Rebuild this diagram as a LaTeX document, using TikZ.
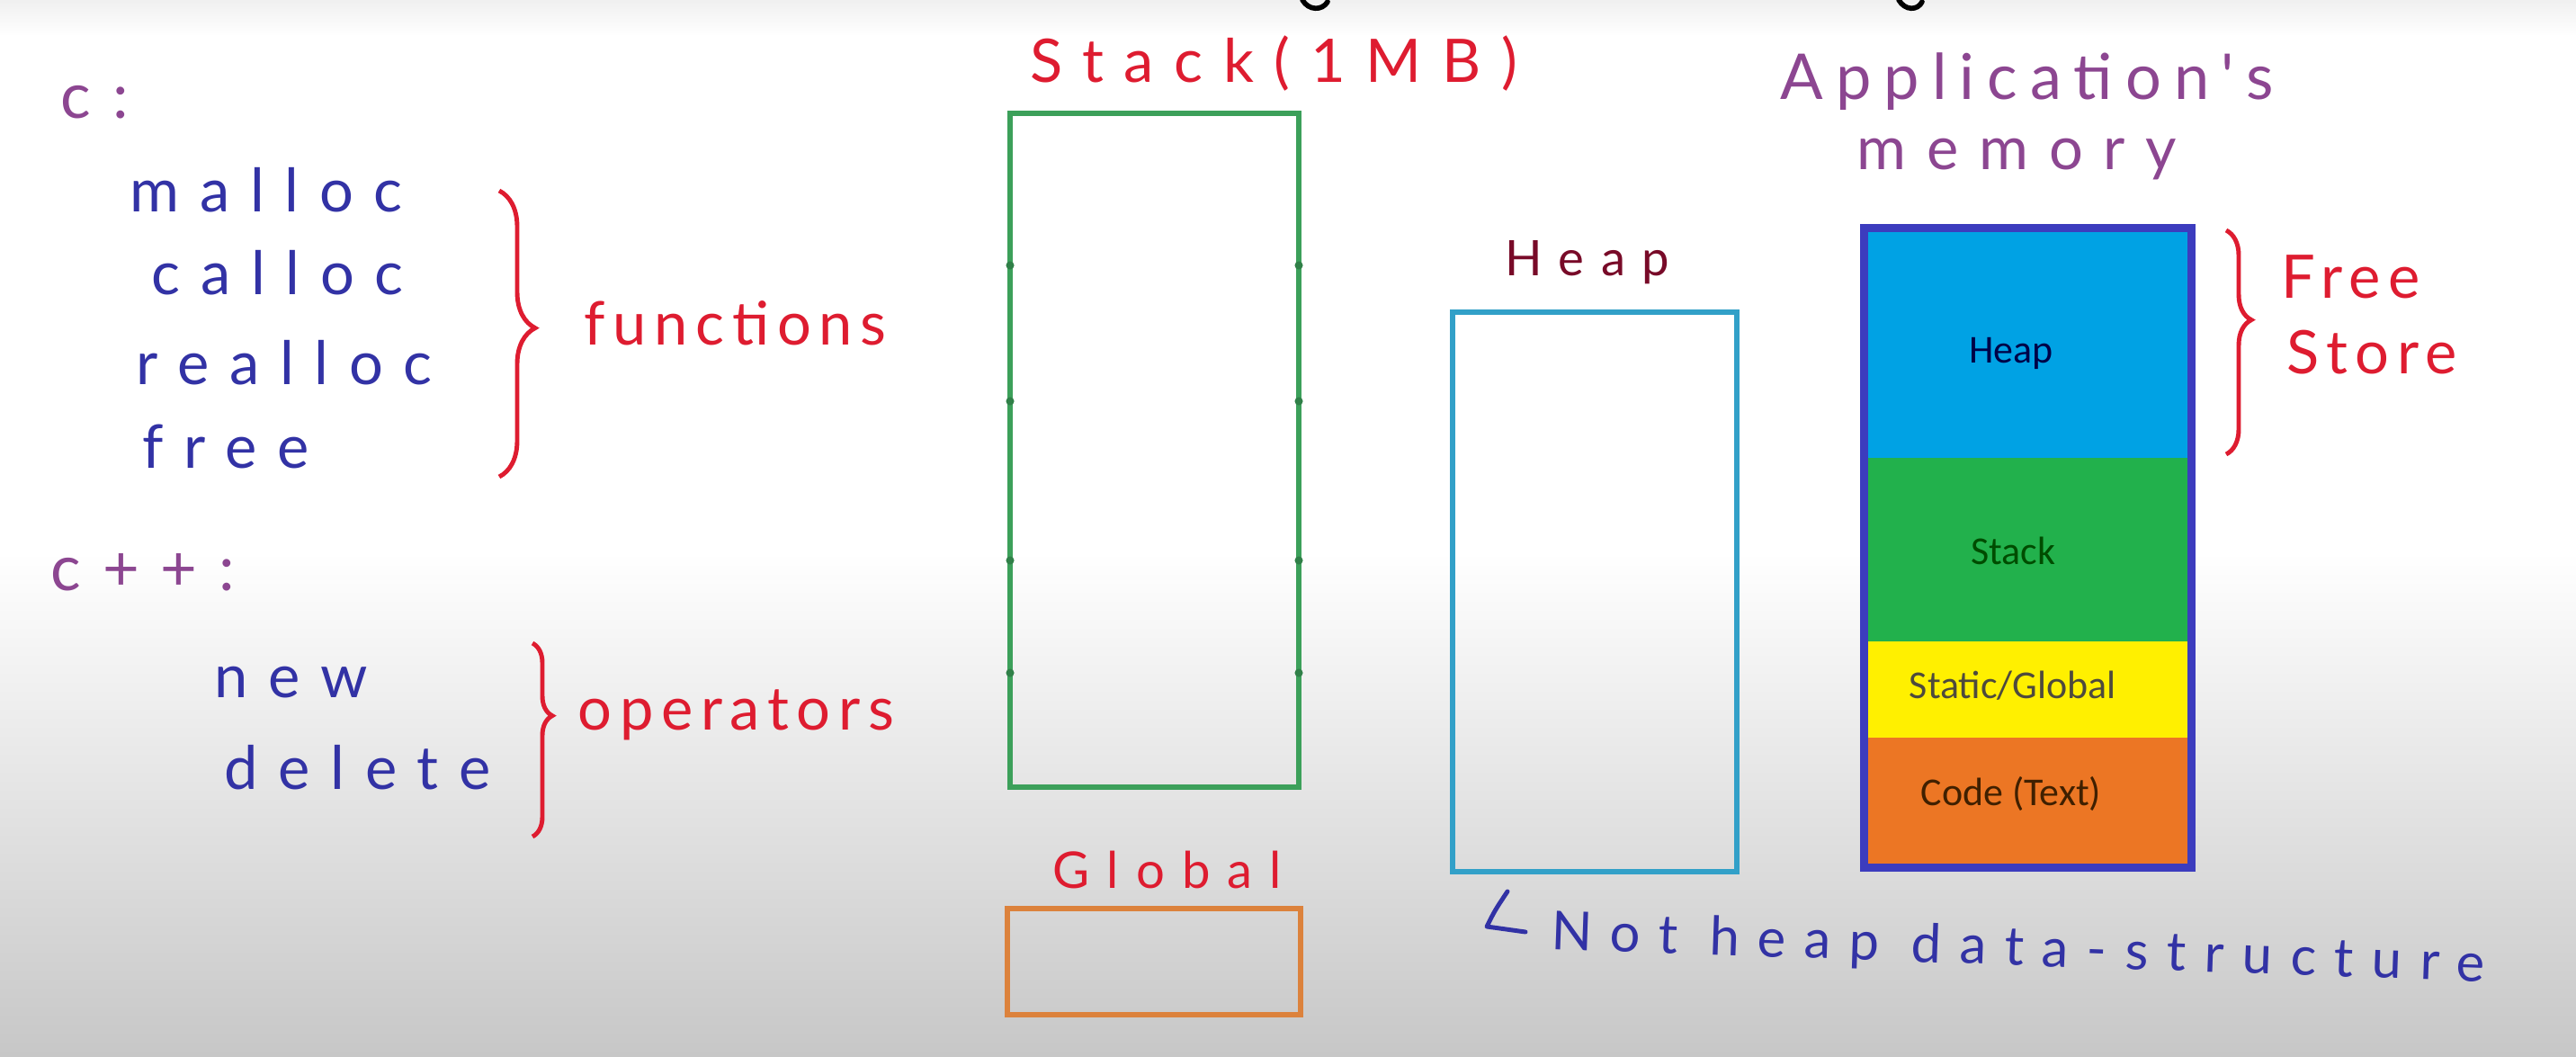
\documentclass[tikz,border=0pt]{standalone}
\usepackage{fontspec}
\usepackage{xcolor}
\usepackage{tikz}
\usetikzlibrary{decorations.pathreplacing}
\setmainfont{Lato}
\newfontfamily\handwide[LetterSpace=34]{Lato}
\newfontfamily\handmid[LetterSpace=20]{Lato}
\newfontfamily\handnarrow[LetterSpace=13]{Lato}
\newfontfamily\boxfont{Carlito}
\definecolor{penpurple}{RGB}{140,70,145}
\definecolor{penblue}{RGB}{50,50,165}
\definecolor{penred}{RGB}{222,28,48}
\definecolor{penmaroon}{RGB}{120,10,40}
\definecolor{stackline}{RGB}{60,160,90}
\definecolor{heapline}{RGB}{50,160,200}
\definecolor{globalline}{RGB}{220,130,60}
\definecolor{memline}{RGB}{60,60,190}
\definecolor{heapfill}{RGB}{0,162,228}
\definecolor{stackfill}{RGB}{34,177,76}
\definecolor{staticfill}{RGB}{255,240,0}
\definecolor{codefill}{RGB}{236,118,36}
\tikzset{
  pen/.style={inner sep=0pt,anchor=base west},
  lang/.style={pen,text=penpurple,font=\handwide\fontsize{20}{24}\selectfont},
  fname/.style={pen,text=penblue,font=\handwide\fontsize{19}{23}\selectfont},
  note/.style={pen,text=penred,font=\handnarrow\fontsize{19}{23}\selectfont},
  title/.style={pen,font=\handwide\fontsize{#1}{#1}\selectfont},
  segtext/.style={font=\boxfont\fontsize{12.5}{15}\selectfont},
  penbrace/.style={decorate,decoration={brace,amplitude=#1},penred,line width=1.4pt},
  boxline/.style={line width=1.7pt}
}
\begin{document}
\begin{tikzpicture}[scale=1.0]
\useasboundingbox (0,0) rectangle (28.64,11.74);
\fill[white] (0,0) rectangle (28.64,11.74);
\shade[top color=white,bottom color=black!22] (0,0) rectangle (28.64,5.6);
\shade[top color=black!6,bottom color=white] (0,11.34) rectangle (28.64,11.74);
\draw[black,line width=1.6pt,line cap=round] (14.48,11.74) .. controls (14.55,11.62) and (14.70,11.62) .. (14.76,11.72);
\draw[black,line width=1.6pt,line cap=round] (21.11,11.74) .. controls (21.18,11.62) and (21.32,11.62) .. (21.37,11.72);

\node[lang] (c) at (0.67,10.42) {c:};
\node[fname] (malloc) at (1.44,9.38) {malloc};
\node[fname] (calloc) at (1.68,8.47) {calloc};
\node[fname] (realloc) at (1.51,7.47) {realloc};
\node[fname] (free) at (1.58,6.54) {free};
\draw[penbrace=0.4cm,decoration={aspect=0.48}] (5.55,9.62) -- (5.55,6.44);
\node[note] (functions) at (6.49,7.91) {functions};

\node[lang] (cpp) at (0.56,5.18) {c++:};
\node[fname] (new) at (2.38,3.99) {new};
\node[fname] (delete) at (2.49,2.97) {delete};
\draw[penbrace=0.22cm,decoration={aspect=0.375}] (5.92,4.59) -- (5.92,2.44);
\node[note] (operators) at (6.42,3.63) {operators};

\node[title=19,text=penred] (stacklbl) at (11.45,10.82) {Stack(1MB)};
\draw[stackline,boxline] (11.23,10.48) rectangle (14.44,2.99);
\foreach \y in {8.79,7.28,5.51,4.26}{
  \fill[stackline!80!black] (11.23,\y) circle (1.3pt) (14.44,\y) circle (1.3pt);
}
\node[title=16,text=penred] (globallbl) at (11.70,1.87) {Global};
\draw[globalline,boxline] (11.20,1.64) rectangle (14.46,0.46);

\node[title=15.5,text=penmaroon] (heaplbl) at (16.73,8.68) {Heap};
\draw[heapline,boxline] (16.15,8.27) rectangle (19.31,2.05);
\draw[penblue,line width=1.4pt,line cap=round,line join=round]
  (16.76,1.83) .. controls (16.62,1.62) .. (16.53,1.44) -- (16.96,1.38);
\node[title=17,text=penblue,rotate=-2] (notheap) at (17.24,1.19) {Not heap data-structure};

\node[pen,text=penpurple,font=\handmid\fontsize{20}{24}\selectfont] (applbl) at (19.79,10.63) {Application's};
\node[lang,font=\handwide\fontsize{19}{23}\selectfont] (memlbl) at (20.64,9.85) {memory};
\fill[heapfill] (20.70,9.20) rectangle (24.38,6.65);
\fill[stackfill] (20.70,6.65) rectangle (24.38,4.61);
\fill[staticfill] (20.70,4.61) rectangle (24.38,3.54);
\fill[codefill] (20.70,3.54) rectangle (24.38,2.08);
\draw[memline,line width=0.09cm] (20.72,9.20) rectangle (24.36,2.10);
\node[segtext,text=black!60!blue!70!black] (heapseg) at (22.36,7.81) {Heap};
\node[segtext,text=black!70!green] (stackseg) at (22.38,5.62) {Stack};
\node[segtext,text=black!80!yellow] (staticseg) at (22.38,4.12) {Static/Global};
\node[segtext,text=black!75!orange] (codeseg) at (22.36,2.92) {Code (Text)};
\draw[penbrace=0.28cm,decoration={aspect=0.4}] (24.75,9.18) -- (24.75,6.69);
\node[note] (freelbl) at (25.36,8.43) {Free};
\node[note] (storelbl) at (25.42,7.59) {Store};
\end{tikzpicture}
\end{document}
